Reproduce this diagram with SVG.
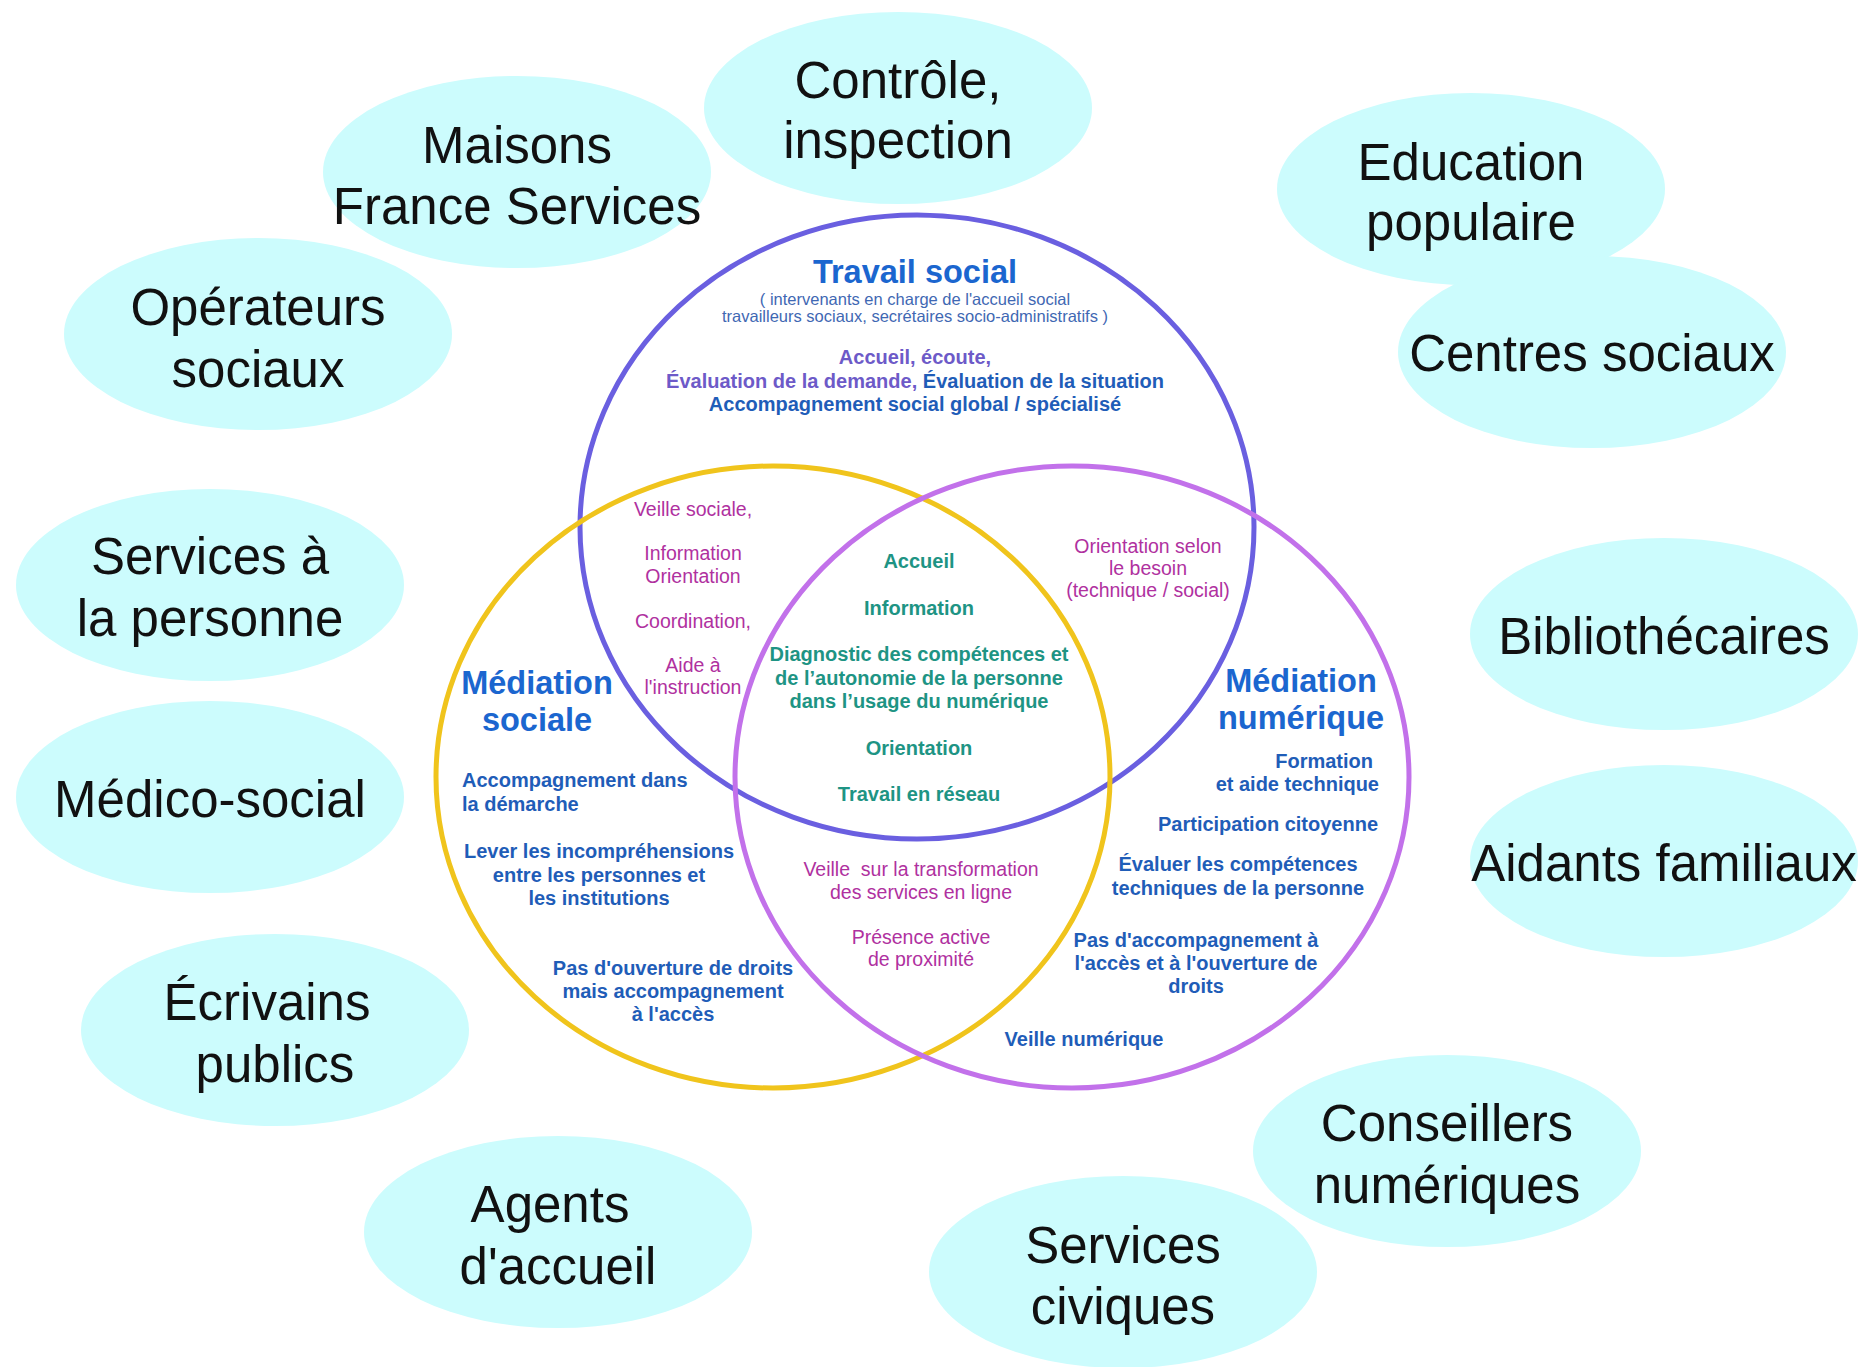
<svg xmlns="http://www.w3.org/2000/svg" width="1864" height="1367" viewBox="0 0 1864 1367">
<style>
text{font-family:"Liberation Sans",Arial,sans-serif;}
.bub{fill:#ccfcfd;stroke:none;}
.bt{font-size:51px;fill:#111;text-anchor:middle;}
.ring{fill:none;stroke-width:5;}
.ttl{font-size:32.5px;font-weight:bold;fill:#1b66cf;text-anchor:middle;}
.sub{font-size:16.5px;fill:#3f68b3;text-anchor:middle;}
.db{font-size:20px;font-weight:bold;fill:#1f5db8;}
.pb{font-size:20px;font-weight:bold;fill:#6d5ac8;}
.mg{font-size:19.5px;fill:#b0319f;text-anchor:middle;}
.tl{font-size:20px;font-weight:bold;fill:#1e9484;text-anchor:middle;}
.c{text-anchor:middle;}
.e{text-anchor:end;}
</style>
<rect width="1864" height="1367" fill="#ffffff"/>

<g id="bubbles">
<g id="maisons-france-services"><ellipse class="bub" cx="517" cy="172" rx="194" ry="96"/><text class="bt" x="517" y="163">Maisons</text><text class="bt" x="517" y="224">France Services</text></g>
<g id="controle-inspection"><ellipse class="bub" cx="898" cy="108" rx="194" ry="96"/><text class="bt" x="898" y="98">Contrôle,</text><text class="bt" x="898" y="158">inspection</text></g>
<g id="education-populaire"><ellipse class="bub" cx="1471" cy="189" rx="194" ry="96"/><text class="bt" x="1471" y="180">Education</text><text class="bt" x="1471" y="240">populaire</text></g>
<g id="centres-sociaux"><ellipse class="bub" cx="1592" cy="352" rx="194" ry="96"/><text class="bt" x="1592" y="371">Centres sociaux</text></g>
<g id="operateurs-sociaux"><ellipse class="bub" cx="258" cy="334" rx="194" ry="96"/><text class="bt" x="258" y="325">Opérateurs</text><text class="bt" x="258" y="387">sociaux</text></g>
<g id="services-a-la-personne"><ellipse class="bub" cx="210" cy="585" rx="194" ry="96"/><text class="bt" x="210" y="574">Services à</text><text class="bt" x="210" y="636">la personne</text></g>
<g id="bibliothecaires"><ellipse class="bub" cx="1664" cy="634" rx="194" ry="96"/><text class="bt" x="1664" y="654">Bibliothécaires</text></g>
<g id="medico-social"><ellipse class="bub" cx="210" cy="797" rx="194" ry="96"/><text class="bt" x="210" y="817">Médico-social</text></g>
<g id="aidants-familiaux"><ellipse class="bub" cx="1664" cy="861" rx="194" ry="96"/><text class="bt" x="1664" y="881">Aidants familiaux</text></g>
<g id="ecrivains-publics"><ellipse class="bub" cx="275" cy="1030" rx="194" ry="96"/><text class="bt" x="267" y="1020">Écrivains</text><text class="bt" x="275" y="1082">publics</text></g>
<g id="conseillers-numeriques"><ellipse class="bub" cx="1447" cy="1151" rx="194" ry="96"/><text class="bt" x="1447" y="1141">Conseillers</text><text class="bt" x="1447" y="1203">numériques</text></g>
<g id="agents-accueil"><ellipse class="bub" cx="558" cy="1232" rx="194" ry="96"/><text class="bt" x="550" y="1222">Agents</text><text class="bt" x="558" y="1284">d'accueil</text></g>
<g id="services-civiques"><ellipse class="bub" cx="1123" cy="1272" rx="194" ry="96"/><text class="bt" x="1123" y="1263">Services</text><text class="bt" x="1123" y="1324">civiques</text></g>
</g>

<g id="connectors"></g>

<g id="rings">
<ellipse id="ring-travail-social" class="ring" stroke="#6a5fe0" cx="917" cy="527" rx="337" ry="312"/>
<ellipse id="ring-mediation-sociale" class="ring" stroke="#f0c41c" cx="773" cy="777" rx="337" ry="311"/>
<ellipse id="ring-mediation-numerique" class="ring" stroke="#c271ea" cx="1072" cy="777" rx="337" ry="311"/>
</g>

<g id="travail-social">
<text class="ttl" x="915" y="283">Travail social</text>
<text class="sub" x="915" y="305">( intervenants en charge de l'accueil social</text>
<text class="sub" x="915" y="322">travailleurs sociaux, secrétaires socio-administratifs )</text>
<text class="pb c" x="915" y="364">Accueil, écoute,</text>
<text class="c" x="915" y="388" style="font-size:20px;font-weight:bold"><tspan fill="#6d5ac8">Évaluation de la demande, </tspan><tspan fill="#1f5db8">Évaluation de la situation</tspan></text>
<text class="db c" x="915" y="411">Accompagnement social global / spécialisé</text>
</g>

<g id="zone-travail-mediation-sociale">
<text class="mg" x="693" y="516">Veille sociale,</text>
<text class="mg" x="693" y="560">Information</text>
<text class="mg" x="693" y="583">Orientation</text>
<text class="mg" x="693" y="628">Coordination,</text>
<text class="mg" x="693" y="672">Aide à</text>
<text class="mg" x="693" y="694">l'instruction</text>
</g>

<g id="zone-centre">
<text class="tl" x="919" y="568">Accueil</text>
<text class="tl" x="919" y="615">Information</text>
<text class="tl" x="919" y="661">Diagnostic des compétences et</text>
<text class="tl" x="919" y="685">de l’autonomie de la personne</text>
<text class="tl" x="919" y="708">dans l’usage du numérique</text>
<text class="tl" x="919" y="755">Orientation</text>
<text class="tl" x="919" y="801">Travail en réseau</text>
</g>

<g id="zone-travail-mediation-numerique">
<text class="mg" x="1148" y="553">Orientation selon</text>
<text class="mg" x="1148" y="575">le besoin</text>
<text class="mg" x="1148" y="597">(technique / social)</text>
</g>

<g id="zone-mediation-sociale-numerique">
<text class="mg" x="921" y="876" xml:space="preserve">Veille  sur la transformation</text>
<text class="mg" x="921" y="899">des services en ligne</text>
<text class="mg" x="921" y="944">Présence active</text>
<text class="mg" x="921" y="966">de proximité</text>
</g>

<g id="mediation-sociale">
<text class="ttl" x="537" y="694">Médiation</text>
<text class="ttl" x="537" y="731">sociale</text>
<text class="db" x="462" y="787">Accompagnement dans</text>
<text class="db" x="462" y="811">la démarche</text>
<text class="db c" x="599" y="858">Lever les incompréhensions</text>
<text class="db c" x="599" y="882">entre les personnes et</text>
<text class="db c" x="599" y="905">les institutions</text>
<text class="db c" x="673" y="975">Pas d'ouverture de droits</text>
<text class="db c" x="673" y="998">mais accompagnement</text>
<text class="db c" x="673" y="1021">à l'accès</text>
</g>

<g id="mediation-numerique">
<text class="ttl" x="1301" y="692">Médiation</text>
<text class="ttl" x="1301" y="729">numérique</text>
<text class="db e" x="1373" y="768">Formation</text>
<text class="db e" x="1379" y="791">et aide technique</text>
<text class="db c" x="1268" y="831">Participation citoyenne</text>
<text class="db c" x="1238" y="871">Évaluer les compétences</text>
<text class="db c" x="1238" y="895">techniques de la personne</text>
<text class="db c" x="1196" y="947">Pas d'accompagnement à</text>
<text class="db c" x="1196" y="970">l'accès et à l'ouverture de</text>
<text class="db c" x="1196" y="993">droits</text>
<text class="db c" x="1084" y="1046">Veille numérique</text>
</g>
</svg>
